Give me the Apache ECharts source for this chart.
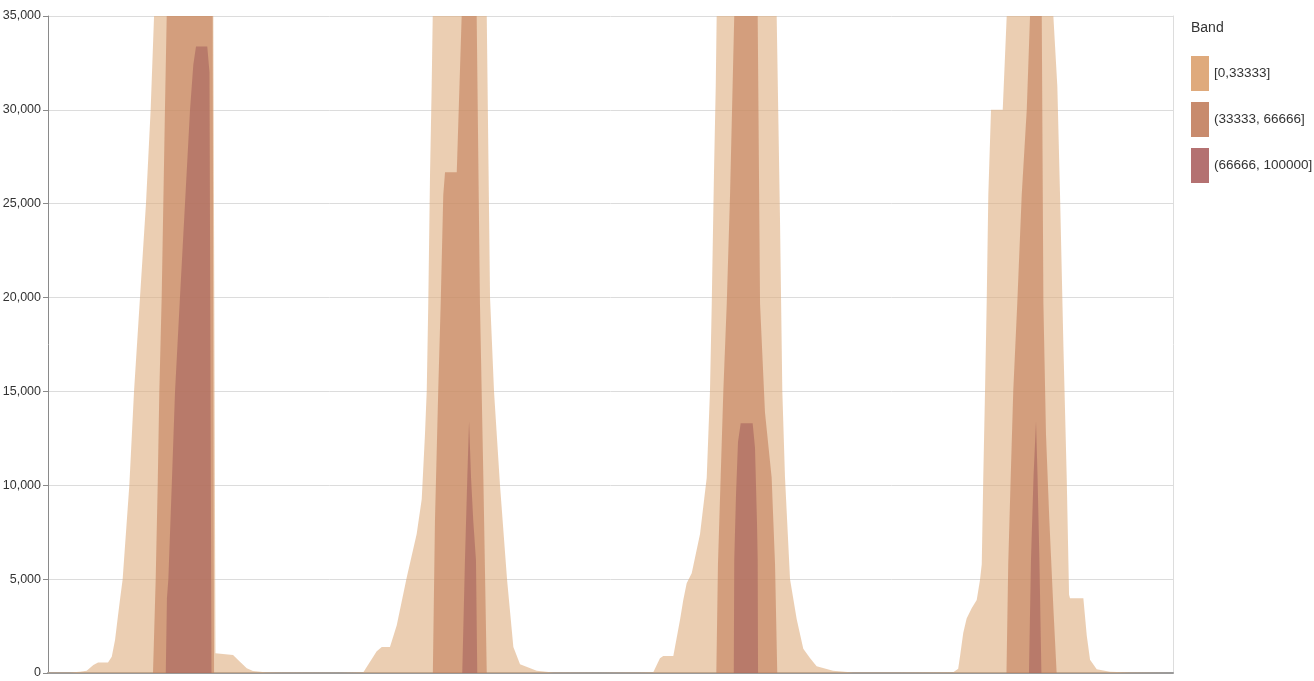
<!DOCTYPE html>
<html>
<head>
<meta charset="utf-8">
<script src="https://cdn.jsdelivr.net/npm/echarts@6/dist/echarts.min.js"></script>
<style>
  html, body { margin: 0; padding: 0; background: #ffffff; }
  #chart { width: 1314px; height: 681px; }
</style>
</head>
<body>
<div id="chart"></div>
<script>
// Band labels, in drawing order (lowest band first, drawn underneath)
const bandNames = ['[0,33333]', '(33333, 66666]', '(66666, 100000]'];

// [hour, count] pairs for each band over four days (0–96 h).
// Values above 35,000 run off the top of the plot and are clipped there.
const lowBand = [
  [0, 20], [1.88, 30], [2.73, 60], [3.30, 120], [3.87, 430], [4.27, 560], [5.12, 560],
  [5.44, 870], [5.72, 1760], [6.00, 3190], [6.14, 3890], [6.37, 5000], [6.94, 10000],
  [7.34, 15000], [7.85, 20000], [8.36, 25000], [8.76, 30000], [9.05, 35000], [11.52, 60000],
  [14.11, 35000], [14.29, 1050], [15.79, 960], [16.38, 600], [16.96, 250], [17.49, 100],
  [18.52, 40], [19.80, 20], [24.92, 15],
  [26.91, 40], [28.05, 1160], [28.48, 1390], [29.18, 1390], [29.76, 2550], [30.61, 5090],
  [31.46, 7400], [31.89, 9260], [32.17, 12730], [32.32, 15050], [32.45, 19680], [32.60, 26600],
  [32.74, 31250], [32.83, 35000], [35.16, 60000], [37.44, 35000], [37.59, 27000], [37.72, 20000],
  [38.06, 15000], [38.57, 10000], [39.17, 5000], [39.71, 1390], [40.28, 460], [41.70, 115],
  [43.09, 30], [47.10, 15],
  [50.52, 20], [51.65, 40], [52.22, 780], [52.50, 900], [53.36, 900], [53.93, 2820],
  [54.21, 3890], [54.50, 4780], [54.93, 5310], [55.64, 7400], [56.21, 10400], [56.49, 15050],
  [56.64, 19680], [56.83, 26620], [56.98, 31250], [57.06, 35000], [59.65, 60000], [62.18, 35000],
  [62.46, 24300], [62.66, 15050], [62.89, 10420], [63.32, 5000], [63.89, 2870], [64.45, 1290],
  [65.02, 800], [65.59, 360], [66.99, 115], [68.69, 30], [72.70, 20],
  [77.25, 40], [77.67, 230], [77.82, 870], [78.10, 2130], [78.39, 2910], [78.82, 3450],
  [79.25, 3890], [79.53, 4950], [79.68, 5790], [79.81, 10420], [79.96, 15050], [80.10, 19680],
  [80.24, 25460], [80.47, 30000], [81.47, 30000], [81.81, 35000], [83.80, 60000], [85.79, 35000],
  [86.13, 31250], [86.36, 25460], [86.65, 17370], [86.93, 10420], [87.13, 4170], [87.21, 3980],
  [88.35, 3980], [88.64, 2000], [88.92, 700], [89.49, 200], [90.62, 60], [92.33, 20], [96, 10]
];

const midBand = [
  [0, 0], [8.96, 0], [9.19, 5000], [9.36, 10000], [9.50, 15000], [9.70, 20000], [9.84, 25000],
  [9.98, 30000], [10.13, 35000], [12.12, 60000], [14.05, 35000], [14.17, 0],
  [32.84, 0], [33.02, 8100], [33.30, 15050], [33.51, 19680], [33.73, 25460], [33.88, 26670],
  [34.88, 26670], [35.30, 35000], [36.01, 60000], [36.58, 35000], [36.86, 19680], [37.15, 10420],
  [37.44, 0],
  [57.03, 0], [57.17, 5790], [57.40, 10420], [57.63, 15050], [57.92, 19680], [58.20, 25460],
  [58.56, 35000], [59.56, 60000], [60.56, 35000], [60.76, 19680], [61.18, 13890], [61.75, 10420],
  [62.04, 5790], [62.23, 0],
  [81.79, 0], [81.94, 5790], [82.15, 10420], [82.37, 15050], [82.71, 19680], [83.09, 25460],
  [83.52, 30000], [83.80, 35000], [84.31, 60000], [84.80, 35000], [84.94, 19680], [85.16, 12730],
  [85.45, 8100], [85.79, 3470], [86.07, 0], [96, 0]
];

const highBand = [
  [0, 0], [10.05, 0], [10.15, 4000], [10.27, 5000], [10.56, 10000], [10.84, 15000], [11.26, 20000],
  [11.69, 25000], [12.12, 30000], [12.40, 32400], [12.63, 33380], [13.59, 33380], [13.78, 32000],
  [13.95, 0],
  [35.35, 0], [35.58, 6000], [35.78, 10400], [35.93, 13400], [36.10, 10400], [36.29, 8100],
  [36.52, 6000], [36.63, 0],
  [58.52, 0], [58.56, 6000], [58.71, 9500], [58.88, 12300], [59.11, 13310], [60.13, 13310],
  [60.33, 12000], [60.50, 8000], [60.56, 6000], [60.59, 0],
  [83.71, 0], [83.88, 6000], [84.10, 10500], [84.31, 13400], [84.44, 10500], [84.60, 6000],
  [84.77, 0], [96, 0]
];

const bandData = [lowBand, midBand, highBand];
const swatchColors = ['#dfaa7c', '#c88b6d', '#b47171'];
const fillColors = ['#dead7f', '#c37e5a', '#a6625d'];

const FONT = '"Liberation Sans", Arial, sans-serif';

const chart = echarts.init(document.getElementById('chart'), null, { renderer: 'canvas' });

chart.setOption({
  animation: false,
  backgroundColor: '#ffffff',
  title: {
    text: 'Band',
    left: 1191,
    top: 21,
    padding: 0,
    textStyle: { fontFamily: FONT, fontSize: 14, fontWeight: 'normal', color: '#333333' }
  },
  legend: {
    orient: 'vertical',
    left: 1191,
    top: 56,
    padding: 0,
    icon: 'rect',
    itemWidth: 18,
    itemHeight: 35,
    itemGap: 11,
    selectedMode: false,
    textStyle: { fontFamily: FONT, fontSize: 13.5, color: '#333333' },
    data: bandNames.map((name, i) => ({ name, itemStyle: { color: swatchColors[i], opacity: 1 } }))
  },
  grid: { left: 48, right: 141, top: 16, bottom: 8, containLabel: false, outerBoundsMode: 'none' },
  xAxis: {
    type: 'value',
    min: 0,
    max: 96,
    axisLine: { show: true, lineStyle: { color: '#9a9a9a', width: 2 } },
    axisTick: { show: false },
    axisLabel: { show: false },
    splitLine: { show: false }
  },
  yAxis: [
    {
      type: 'value',
      min: 0,
      max: 35000,
      interval: 5000,
      axisLine: { show: true, lineStyle: { color: '#8a8a8a', width: 1 } },
      axisTick: { show: true, length: 5, lineStyle: { color: '#8a8a8a' } },
      axisLabel: {
        margin: 7,
        fontFamily: FONT,
        fontSize: 12.5,
        color: '#333333',
        formatter: v => v.toLocaleString('en-US')
      },
      splitLine: { show: true, lineStyle: { color: '#dcdcdc', width: 1 } }
    },
    {
      type: 'value',
      position: 'right',
      min: 0,
      max: 35000,
      interval: 5000,
      axisLine: { show: true, lineStyle: { color: '#dddddd', width: 1 } },
      axisTick: { show: false },
      axisLabel: { show: false },
      splitLine: { show: false }
    }
  ],
  series: bandNames.map((name, i) => ({
    name,
    type: 'line',
    yAxisIndex: 0,
    data: bandData[i],
    showSymbol: false,
    symbol: 'none',
    smooth: false,
    clip: true,
    color: swatchColors[i],
    lineStyle: { width: 0, opacity: 0 },
    areaStyle: { color: fillColors[i], opacity: 0.6 },
    z: 2 + i
  }))
});
</script>
</body>
</html>
